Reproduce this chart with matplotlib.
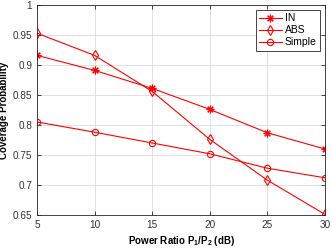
import matplotlib
matplotlib.use("Agg")
import matplotlib.pyplot as plt

# Data
power_ratio = [5, 10, 15, 20, 25, 30]
cov_in = [0.916, 0.891, 0.861, 0.826, 0.787, 0.760]
cov_abs = [0.953, 0.916, 0.856, 0.776, 0.708, 0.651]
cov_simple = [0.805, 0.788, 0.770, 0.752, 0.728, 0.712]

plt.rcParams['font.family'] = ['Liberation Sans', 'DejaVu Sans']
plt.rcParams['mathtext.fontset'] = 'custom'
plt.rcParams['mathtext.rm'] = 'Liberation Sans:bold'
plt.rcParams['mathtext.it'] = 'Liberation Sans:bold'

fig = plt.figure(figsize=(3.32, 2.49), dpi=100)
ax = fig.add_axes([37 / 332, 34 / 249, 288 / 332, 210 / 249])

ax.plot(power_ratio, cov_in, color='red', linewidth=0.8, marker=(8, 2, 0),
        markersize=5.5, markeredgewidth=0.8, label='IN')
ax.plot(power_ratio, cov_abs, color='red', linewidth=0.8, marker='d',
        markersize=5, markerfacecolor='none', markeredgewidth=0.8, label='ABS')
ax.plot(power_ratio, cov_simple, color='red', linewidth=0.8, marker='o',
        markersize=4.5, markerfacecolor='none', markeredgewidth=0.8, label='Simple')

ax.set_xlim(5, 30)
ax.set_ylim(0.65, 1.0)
ax.set_xticks([5, 10, 15, 20, 25, 30])
ax.set_yticks([0.65, 0.7, 0.75, 0.8, 0.85, 0.9, 0.95, 1.0])
ax.set_yticklabels(['0.65', '0.7', '0.75', '0.8', '0.85', '0.9', '0.95', '1'])
ax.tick_params(direction='in', top=True, right=True, labelsize=7.2,
               length=3, width=0.6, colors='#262626', labelcolor='#333333')
ax.grid(True, color='#dcdcdc', linewidth=0.6)
ax.set_axisbelow(True)
for s in ax.spines.values():
    s.set_linewidth(0.6)
    s.set_color('#262626')

ax.set_xlabel('Power Ratio P$_1$/P$_2$ (dB)', fontsize=7, fontweight='bold',
              labelpad=3)
ax.set_ylabel('Coverage Probability', fontsize=7, fontweight='bold')
ax.yaxis.set_label_coords(-0.098, 0.5)

leg = ax.legend(loc='upper right', fontsize=7.5, fancybox=False, framealpha=1,
                edgecolor='#262626', handlelength=2.2, borderpad=0.3,
                labelspacing=0.2, handletextpad=0.3, borderaxespad=0.5)
leg.get_frame().set_linewidth(0.6)

fig.savefig('out.png', dpi=100)
